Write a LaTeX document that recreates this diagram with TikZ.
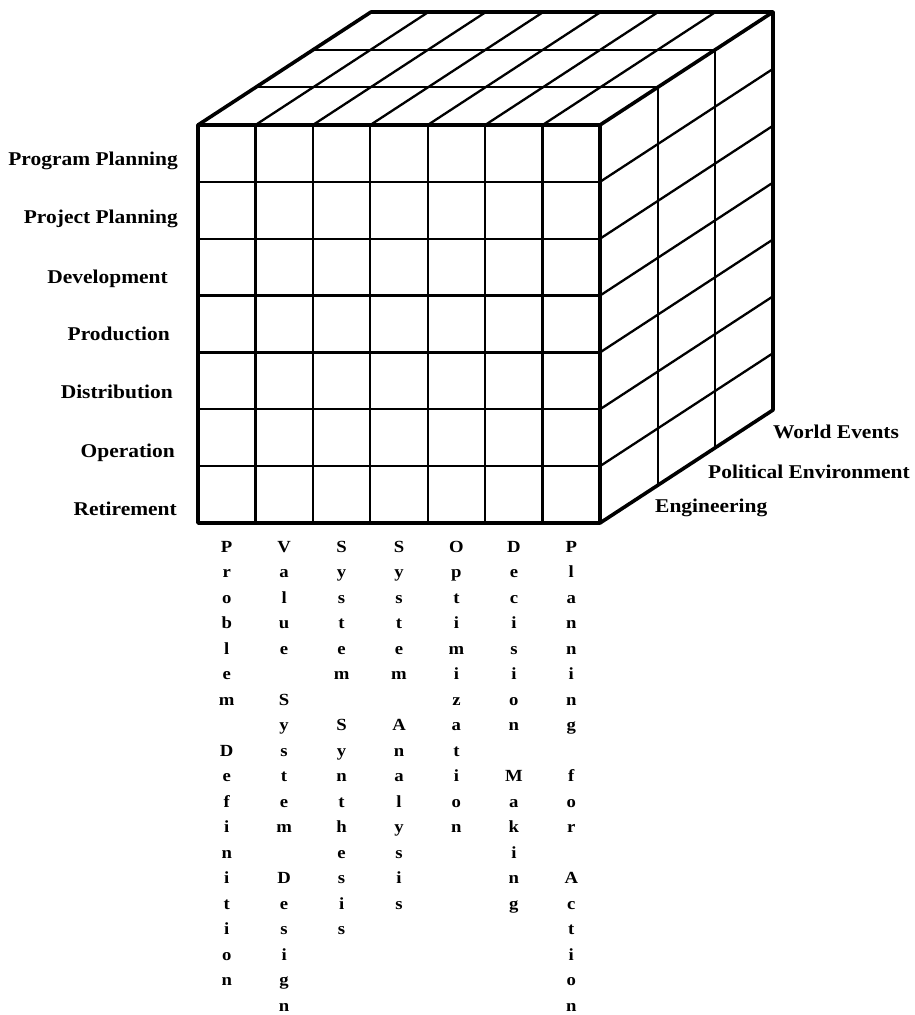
\documentclass[tikz,border=0pt]{standalone}
\usepackage{fontspec}
\setmainfont{Liberation Serif}
\newfontfamily\labfont{Liberation Serif}[FakeStretch=1.1]
\usetikzlibrary{calc}
\tikzset{
  outer/.style={line width=3.6pt, line cap=round, line join=round},
  inner/.style={line width=2.3pt, line cap=round},
  rowlab/.style={anchor=base east, inner sep=0pt, font=\labfont\bfseries\fontsize{19.5}{22}\selectfont},
  sidelab/.style={anchor=base west, inner sep=0pt, font=\labfont\bfseries\fontsize{19.5}{22}\selectfont},
  collab/.style={anchor=base, inner sep=0pt, font=\labfont\bfseries\fontsize{17}{19}\selectfont}
}
\newcommand\colword[4]{%
  \foreach \c [count=\i from #2] in {#3}
    \node[collab] (#4-\i) at (#1, {552+25.5*\i}) {\c};}
\begin{document}
\begin{tikzpicture}[x=1pt,y=-1pt]
\useasboundingbox (0,0) rectangle (914,1015);
% geometry
\def\xl{198}\def\xr{600}\def\yt{125}\def\yb{523}
\def\cw{57.43}\def\rh{56.86}
\def\vx{57.67}\def\vy{-37.67}
% front face grid
\foreach \i in {1,...,6} {
  \draw[inner] ({\xl+\cw*\i},\yt) -- ({\xl+\cw*\i},\yb);
  \draw[inner] (\xl,{\yt+\rh*\i}) -- (\xr,{\yt+\rh*\i});
}
% top face
\foreach \k in {1,2} {
  \draw[inner] ({\xl+\k*\vx},{\yt+\k*\vy}) -- ({\xr+\k*\vx},{\yt+\k*\vy});
}
\foreach \i in {1,...,6} {
  \draw[inner] ({\xl+\cw*\i},\yt) -- ({\xl+\cw*\i+3*\vx},{\yt+3*\vy});
}
% right face
\foreach \k in {1,2} {
  \draw[inner] ({\xr+\k*\vx},{\yt+\k*\vy}) -- ({\xr+\k*\vx},{\yb+\k*\vy});
}
\foreach \j in {1,...,6} {
  \draw[inner] (\xr,{\yt+\rh*\j}) -- ({\xr+3*\vx},{\yt+\rh*\j+3*\vy});
}
% outline
\draw[outer] (\xl,\yt) rectangle (\xr,\yb);
\draw[outer] (\xl,\yt) -- ({\xl+3*\vx},{\yt+3*\vy}) -- ({\xr+3*\vx},{\yt+3*\vy})
  -- ({\xr+3*\vx},{\yb+3*\vy}) -- (\xr,\yb);
\draw[outer] (\xr,\yt) -- ({\xr+3*\vx},{\yt+3*\vy});
% row labels
\node[rowlab] (r1) at (178,165) {Program Planning};
\node[rowlab] (r2) at (178,223) {Project Planning};
\node[rowlab] (r3) at (168,283) {Development};
\node[rowlab] (r4) at (170,340) {Production};
\node[rowlab] (r5) at (173,398) {Distribution};
\node[rowlab] (r6) at (175,457) {Operation};
\node[rowlab] (r7) at (177,515) {Retirement};
% side labels
\node[sidelab] (s1) at (773,438) {World Events};
\node[sidelab] (s2) at (708,478) {Political Environment};
\node[sidelab] (s3) at (655,512) {Engineering};
% column labels
\colword{226.7}{0}{P,r,o,b,l,e,m}{c1a}
\colword{226.7}{8}{D,e,f,i,n,i,t,i,o,n}{c1b}
\colword{284.1}{0}{V,a,l,u,e}{c2a}
\colword{284.1}{6}{S,y,s,t,e,m}{c2b}
\colword{284.1}{13}{D,e,s,i,g,n}{c2c}
\colword{341.6}{0}{S,y,s,t,e,m}{c3a}
\colword{341.6}{7}{S,y,n,t,h,e,s,i,s}{c3b}
\colword{399.0}{0}{S,y,s,t,e,m}{c4a}
\colword{399.0}{7}{A,n,a,l,y,s,i,s}{c4b}
\colword{456.4}{0}{O,p,t,i,m,i,z,a,t,i,o,n}{c5}
\colword{513.9}{0}{D,e,c,i,s,i,o,n}{c6a}
\colword{513.9}{9}{M,a,k,i,n,g}{c6b}
\colword{571.3}{0}{P,l,a,n,n,i,n,g}{c7a}
\colword{571.3}{9}{f,o,r}{c7b}
\colword{571.3}{13}{A,c,t,i,o,n}{c7c}
\end{tikzpicture}
\end{document}
